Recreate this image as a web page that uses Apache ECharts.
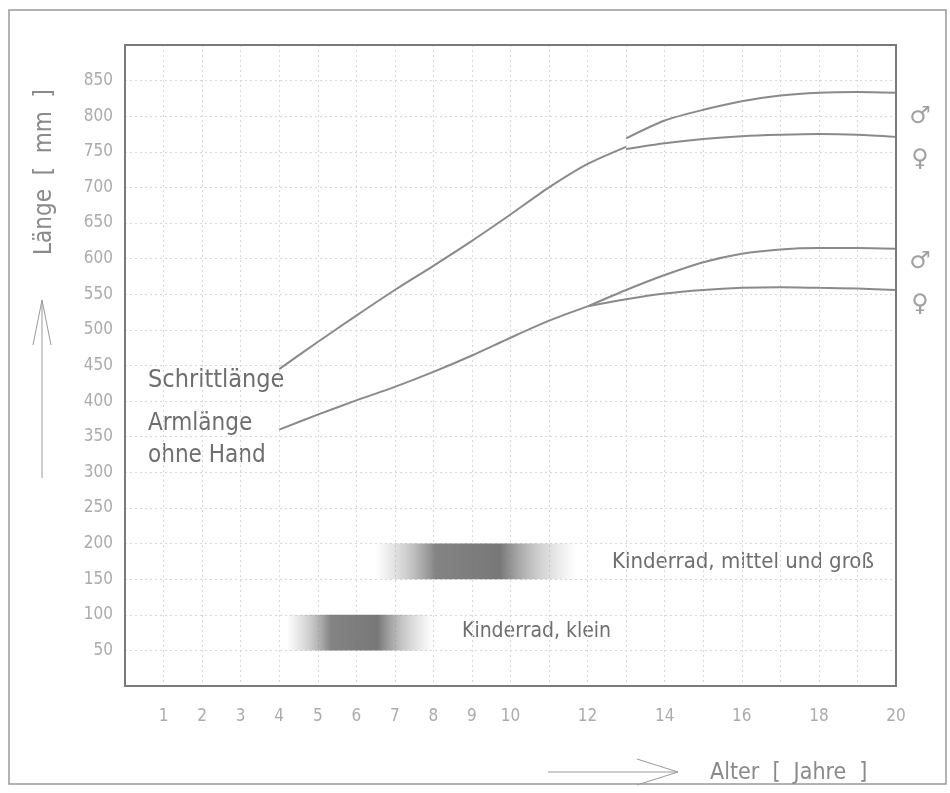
<!DOCTYPE html>
<html>
<head>
<meta charset="utf-8">
<script src="https://cdn.jsdelivr.net/npm/echarts@6/dist/echarts.min.js"></script>
<style>
    html, body { margin: 0; padding: 0; background: #fff; }
    #chart { width: 950px; height: 793px; }
</style>
</head>
<body>
<div id="chart"></div>
<script>
// Schrittlänge (gemeinsam bis 13 Jahre, dann getrennt)
const schritt = [[4, 445], [5, 483], [6, 520], [7, 556], [8, 590], [9, 625], [10, 662], [11, 700], [12, 733], [13, 757]]
const schrittMaennlich = [[13, 769], [14, 794], [15, 809], [16, 821], [17, 829], [18, 833], [19, 834], [20, 833]]
const schrittWeiblich = [[13, 754], [14, 762], [15, 768], [16, 772], [17, 774], [18, 775], [19, 774], [20, 771]]

// Armlänge ohne Hand (gemeinsam bis 12 Jahre)
const arm = [[4, 360], [5, 381], [6, 401], [7, 420], [8, 441], [9, 464], [10, 489], [11, 513], [12, 533]]
const armMaennlich = [[12, 533], [13, 556], [14, 577], [15, 595], [16, 607], [17, 613], [18, 615], [19, 615], [20, 614]]
const armWeiblich = [[12, 533], [13, 543], [14, 551], [15, 556], [16, 559], [17, 560], [18, 559], [19, 558], [20, 556]]

// Kinderrad-Bereiche: [alter von, alter bis, länge von, länge bis]
const kinderrad = [[6.5, 11.7, 150, 200], [4.2, 8.0, 50, 100]]

const xLabels = [1, 2, 3, 4, 5, 6, 7, 8, 9, 10, 12, 14, 16, 18, 20]

const FONT = "'Liberation Sans Narrow', 'DejaVu Sans Condensed', sans-serif"
const LINE = '#8a8a8a'

const chart = echarts.init(document.getElementById('chart'))

function lineSeries(data) {
    return {
        type: 'line',
        data: data,
        smooth: 0.25,
        showSymbol: false,
        silent: true,
        lineStyle: { color: LINE, width: 2 }
    }
}

const gradient = new echarts.graphic.LinearGradient(0, 0, 1, 0, [
    { offset: 0, color: 'rgba(160,160,160,0)' },
    { offset: 0.15, color: 'rgba(150,150,150,0.45)' },
    { offset: 0.3, color: 'rgba(110,110,110,0.85)' },
    { offset: 0.62, color: 'rgba(105,105,105,0.9)' },
    { offset: 0.8, color: 'rgba(150,150,150,0.5)' },
    { offset: 1, color: 'rgba(170,170,170,0)' }
])

function label(text, x, y, size) {
    return {
        type: 'text',
        x: x,
        y: y,
        style: { text: text, fill: '#6e6e6e', font: size + 'px ' + FONT, verticalAlign: 'middle' }
    }
}

function gender(sym, y) {
    return {
        type: 'text', x: 920, y: y,
        style: { text: sym, fill: '#a0a0a0', font: '24px DejaVu Sans', align: 'center', verticalAlign: 'middle' }
    }
}

chart.setOption({
    backgroundColor: '#fff',
    animation: false,
    grid: {
        left: 125,
        top: 45,
        right: 54,
        bottom: 107
    },
    xAxis: {
        type: 'value',
        min: 0,
        max: 20,
        interval: 1,
        axisLine: { lineStyle: { color: '#7a7a7a', width: 2 } },
        axisTick: { show: false },
        axisLabel: {
            margin: 22,
            color: '#ababab',
            fontFamily: FONT,
            fontSize: 17,
            formatter: function (v) {
                return xLabels.indexOf(v) >= 0 ? String(v) : ''
            }
        },
        splitLine: { show: true, lineStyle: { color: '#d8d8d8', type: [2, 3] } }
    },
    yAxis: {
        type: 'value',
        min: 0,
        max: 900,
        interval: 50,
        axisLine: { lineStyle: { color: '#7a7a7a', width: 2 } },
        axisTick: { show: false },
        axisLabel: {
            margin: 12,
            color: '#ababab',
            fontFamily: FONT,
            fontSize: 17,
            formatter: function (v) {
                return v > 0 && v < 900 ? String(v) : ''
            }
        },
        splitLine: { show: true, lineStyle: { color: '#d8d8d8', type: [2, 3] } }
    },
    series: [
        {
            type: 'custom',
            silent: true,
            data: kinderrad,
            renderItem: function (params, api) {
                const p0 = api.coord([api.value(0), api.value(3)])
                const p1 = api.coord([api.value(1), api.value(2)])
                return {
                    type: 'rect',
                    shape: { x: p0[0], y: p0[1], width: p1[0] - p0[0], height: p1[1] - p0[1] },
                    style: { fill: gradient }
                }
            }
        },
        lineSeries(schritt),
        lineSeries(schrittMaennlich),
        lineSeries(schrittWeiblich),
        lineSeries(arm),
        lineSeries(armMaennlich),
        lineSeries(armWeiblich)
    ],
    graphic: [
        // äußerer Rahmen
        {
            type: 'rect',
            shape: { x: 9, y: 10, width: 937, height: 774 },
            style: { fill: 'none', stroke: '#9a9a9a', lineWidth: 1.5 },
            silent: true
        },
        // Rahmen des Diagramms
        {
            type: 'rect',
            z: 100,
            shape: { x: 125, y: 45, width: 771, height: 641 },
            style: { fill: 'none', stroke: '#7a7a7a', lineWidth: 2 },
            silent: true
        },
        // Achsenbeschriftung Y
        {
            type: 'text',
            x: 45,
            y: 172,
            rotation: Math.PI / 2,
            style: {
                text: 'Länge  [  mm  ]',
                fill: '#8a8a8a',
                font: '24px ' + FONT,
                align: 'center',
                verticalAlign: 'middle'
            }
        },
        {
            type: 'polyline',
            shape: { points: [[42, 478], [42, 300]] },
            style: { stroke: '#9a9a9a', lineWidth: 1 }
        },
        {
            type: 'polyline',
            shape: { points: [[33, 345], [42, 300], [51, 345]] },
            style: { stroke: '#9a9a9a', lineWidth: 1, fill: 'none' }
        },
        // Achsenbeschriftung X
        {
            type: 'polyline',
            shape: { points: [[548, 772], [678, 772]] },
            style: { stroke: '#9a9a9a', lineWidth: 1 }
        },
        {
            type: 'polyline',
            shape: { points: [[637, 759], [678, 772], [637, 785]] },
            style: { stroke: '#9a9a9a', lineWidth: 1, fill: 'none' }
        },
        {
            type: 'text',
            x: 710,
            y: 773,
            style: {
                text: 'Alter  [  Jahre  ]',
                fill: '#8a8a8a',
                font: '23px ' + FONT,
                verticalAlign: 'middle'
            }
        },
        // Kurvenbeschriftungen
        label('Schrittlänge', 148, 380, 25),
        label('Armlänge', 148, 424, 24),
        label('ohne Hand', 148, 456, 24),
        label('Kinderrad, mittel und groß', 612, 562, 22),
        label('Kinderrad, klein', 462, 632, 21),
        // Geschlechtssymbole
        gender('♂', 117),
        gender('♀', 160),
        gender('♂', 262),
        gender('♀', 305)
    ]
})
</script>
</body>
</html>
